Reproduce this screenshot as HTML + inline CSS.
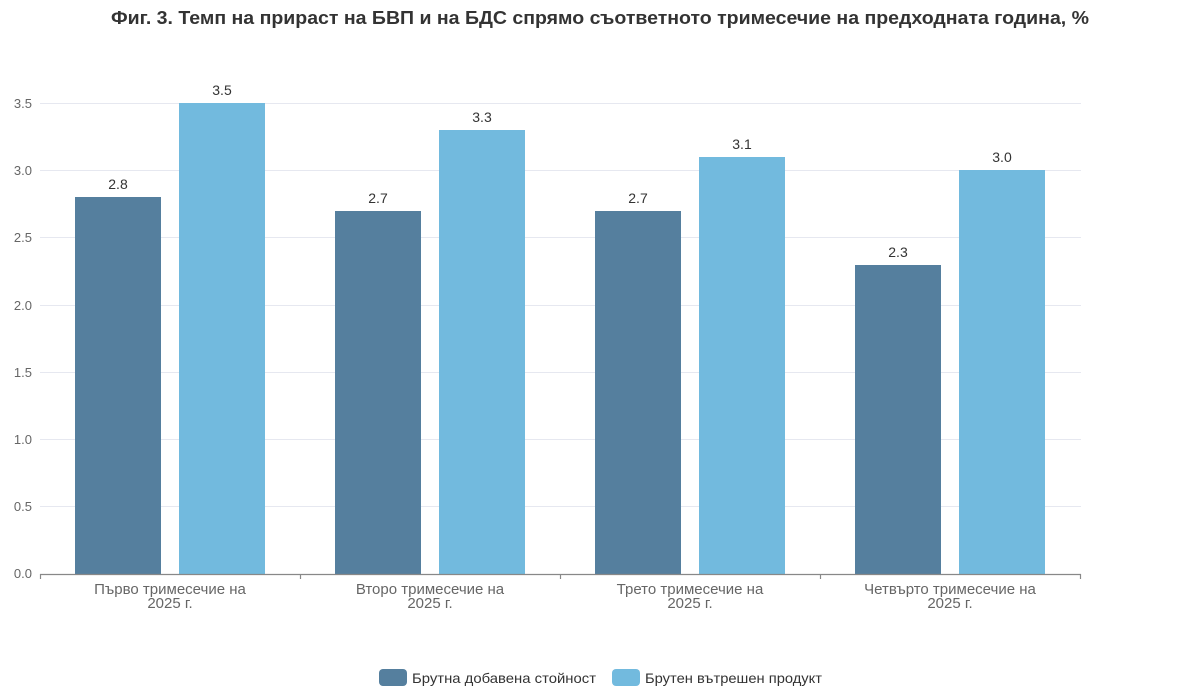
<!DOCTYPE html>
<html><head><meta charset="utf-8"><style>
body{margin:0;background:#fff;}
svg text{font-family:"Liberation Sans","DejaVu Sans",sans-serif;}
</style></head><body>
<svg width="1200" height="692" xmlns="http://www.w3.org/2000/svg">
<text x="111" y="24" font-size="18" font-weight="bold" fill="#333" textLength="978" lengthAdjust="spacingAndGlyphs">Фиг. 3. Темп на прираст на БВП и на БДС спрямо съответното тримесечие на предходната година, %</text>
<g stroke="#e6e8f0" stroke-width="1">
<line x1="40" x2="1081" y1="103.5" y2="103.5"/>
<line x1="40" x2="1081" y1="170.5" y2="170.5"/>
<line x1="40" x2="1081" y1="237.5" y2="237.5"/>
<line x1="40" x2="1081" y1="305.5" y2="305.5"/>
<line x1="40" x2="1081" y1="372.5" y2="372.5"/>
<line x1="40" x2="1081" y1="439.5" y2="439.5"/>
<line x1="40" x2="1081" y1="506.5" y2="506.5"/>
</g>
<g font-size="13" fill="#666" text-anchor="end">
<text x="32" y="108">3.5</text><text x="32" y="175">3.0</text><text x="32" y="242">2.5</text>
<text x="32" y="310">2.0</text><text x="32" y="377">1.5</text><text x="32" y="444">1.0</text>
<text x="32" y="511">0.5</text><text x="32" y="578">0.0</text>
</g>
<g fill="#557f9e">
<rect x="75" y="197" width="86" height="377"/>
<rect x="335" y="211" width="86" height="363"/>
<rect x="595" y="211" width="86" height="363"/>
<rect x="855" y="265" width="86" height="309"/>
</g>
<g fill="#72bade">
<rect x="179" y="103" width="86" height="471"/>
<rect x="439" y="130" width="86" height="444"/>
<rect x="699" y="157" width="86" height="417"/>
<rect x="959" y="170" width="86" height="404"/>
</g>
<g font-size="14" fill="#333" text-anchor="middle">
<text x="118" y="189">2.8</text><text x="222" y="95">3.5</text>
<text x="378" y="203">2.7</text><text x="482" y="122">3.3</text>
<text x="638" y="203">2.7</text><text x="742" y="149">3.1</text>
<text x="898" y="257">2.3</text><text x="1002" y="162">3.0</text>
</g>
<g stroke="#888" stroke-width="1.2">
<line x1="40" x2="1081" y1="574.5" y2="574.5"/>
<line x1="40.5" x2="40.5" y1="574" y2="579"/>
<line x1="300.5" x2="300.5" y1="574" y2="579"/>
<line x1="560.5" x2="560.5" y1="574" y2="579"/>
<line x1="820.5" x2="820.5" y1="574" y2="579"/>
<line x1="1080.5" x2="1080.5" y1="574" y2="579"/>
</g>
<g font-size="15" fill="#666" text-anchor="middle">
<text x="170" y="594">Първо тримесечие на</text><text x="170" y="608">2025 г.</text>
<text x="430" y="594">Второ тримесечие на</text><text x="430" y="608">2025 г.</text>
<text x="690" y="594">Трето тримесечие на</text><text x="690" y="608">2025 г.</text>
<text x="950" y="594">Четвърто тримесечие на</text><text x="950" y="608">2025 г.</text>
</g>
<rect x="379" y="669" width="28" height="17" rx="4" fill="#557f9e"/>
<text x="412" y="683" font-size="14" fill="#333" textLength="184" lengthAdjust="spacingAndGlyphs">Брутна добавена стойност</text>
<rect x="612" y="669" width="28" height="17" rx="4" fill="#72bade"/>
<text x="645" y="683" font-size="14" fill="#333" textLength="177" lengthAdjust="spacingAndGlyphs">Брутен вътрешен продукт</text>
</svg>
</body></html>
